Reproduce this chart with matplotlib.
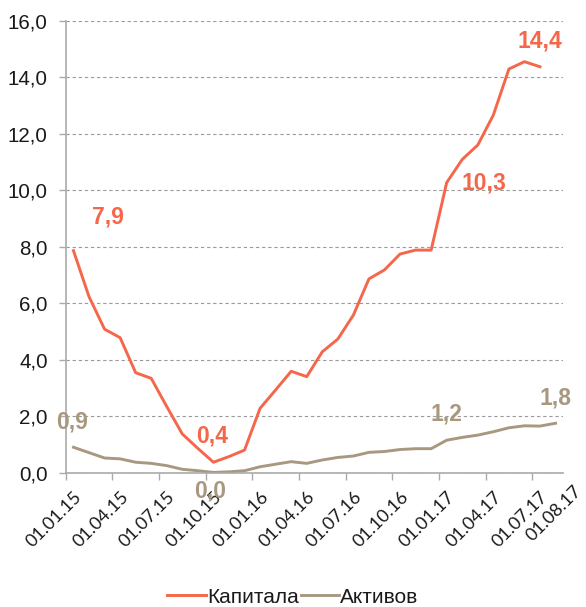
import matplotlib
matplotlib.use("Agg")
import matplotlib.pyplot as plt
import numpy as np

# ---- data ----
dates = ["01.01.15", "01.02.15", "01.03.15", "01.04.15", "01.05.15", "01.06.15",
         "01.07.15", "01.08.15", "01.09.15", "01.10.15", "01.11.15", "01.12.15",
         "01.01.16", "01.02.16", "01.03.16", "01.04.16", "01.05.16", "01.06.16",
         "01.07.16", "01.08.16", "01.09.16", "01.10.16", "01.11.16", "01.12.16",
         "01.01.17", "01.02.17", "01.03.17", "01.04.17", "01.05.17", "01.06.17",
         "01.07.17", "01.08.17"]
kapitala = [7.87, 6.24, 5.09, 4.79, 3.55, 3.35, 2.35, 1.38, 0.87, 0.38, 0.58, 0.81,
            2.29, 2.94, 3.60, 3.41, 4.29, 4.74, 5.59, 6.87, 7.19, 7.75, 7.89, 7.89,
            10.28, 11.10, 11.61, 12.67, 14.30, 14.56, 14.38]
aktivov = [0.91, 0.72, 0.53, 0.50, 0.38, 0.34, 0.26, 0.13, 0.08, 0.02, 0.04, 0.08,
           0.22, 0.31, 0.40, 0.34, 0.46, 0.55, 0.60, 0.73, 0.76, 0.83, 0.86, 0.86,
           1.16, 1.26, 1.34, 1.46, 1.60, 1.67, 1.66, 1.76]
series_names = ["Капитала", "Активов"]
yticks = [0, 2, 4, 6, 8, 10, 12, 14, 16]
label_idx_kap = [0, 9, 24, 30]
label_idx_akt = [0, 9, 24, 31]

RED = "#F4674A"
BROWN = "#A89880"

plt.rcParams["font.family"] = ["Liberation Sans", "DejaVu Sans"]

fig = plt.figure(figsize=(5.86, 6.07), dpi=100)
ax = fig.add_axes([0.1121, 0.2208, 0.8492, 0.7446])

x_k = np.arange(len(kapitala))
x_a = np.arange(len(aktivov))
ax.plot(x_k, kapitala, color=RED, lw=2.1, label=series_names[0], solid_joinstyle="round")
ax.plot(x_a, aktivov, color=BROWN, lw=2.1, label=series_names[1], solid_joinstyle="round")

ax.set_xlim(-0.5, len(dates) - 0.5)
ax.set_ylim(0, 16)

# y axis
ax.set_yticks(yticks)
ax.set_yticklabels([f"{v:.1f}".replace(".", ",") for v in yticks], fontsize=14.8, color="#1a1a1a")
ax.yaxis.grid(True, linestyle=(0, (3, 2.5)), color="#9a9a9a", lw=0.8)
ax.set_axisbelow(True)
ax.tick_params(axis="y", length=5, color="#aaaaaa", width=1, pad=8)

# x axis: tick marks between categories every 3 months, labels at category centers
ax.set_xticks(np.arange(-0.5, len(dates) - 1, 3))
ax.set_xticklabels([])
ax.tick_params(axis="x", which="major", length=5, color="#aaaaaa", width=1)
lab_pos = list(range(0, len(dates) - 1, 3))
ax.set_xticks(lab_pos, minor=True)
ax.set_xticklabels([dates[i] for i in lab_pos], minor=True, rotation=45, ha="right",
                   va="top", rotation_mode="anchor", fontsize=13, color="#1a1a1a",
                   family=["Lato", "DejaVu Sans"])
ax.tick_params(axis="x", which="minor", length=0, pad=11)
# last date label sits at the right end of the axis
ax.annotate(dates[-1], xy=(len(dates) - 1, 0), xycoords="data",
            xytext=(13, -7), textcoords="offset points", rotation=45,
            ha="right", va="top", rotation_mode="anchor", fontsize=13,
            color="#1a1a1a", family=["Lato", "DejaVu Sans"], annotation_clip=False)

for s in ["top", "right"]:
    ax.spines[s].set_visible(False)
for s in ["left", "bottom"]:
    ax.spines[s].set_color("#aaaaaa")
    ax.spines[s].set_linewidth(1.2)

# data labels
def fmt(v):
    return f"{v:.1f}".replace(".", ",")

kap_offsets = {0: (25, 24), 9: (-1, 19), 24: (27, 0), 30: (0, 18.5)}
akt_offsets = {0: (-1, 18), 9: (-2.5, -13.5), 24: (0, 18.7), 31: (0, 18.5)}
for i in label_idx_kap:
    ax.annotate(fmt(kapitala[i]), xy=(i, kapitala[i]), xytext=kap_offsets[i],
                textcoords="offset points", ha="center", va="center",
                fontsize=16.5, fontweight="bold", color=RED, annotation_clip=False)
for i in label_idx_akt:
    ax.annotate(fmt(aktivov[i]), xy=(i, aktivov[i]), xytext=akt_offsets[i],
                textcoords="offset points", ha="center", va="center",
                fontsize=16.5, fontweight="bold", color=BROWN, annotation_clip=False)

fig.legend(loc="center", bbox_to_anchor=(0.5, 0.016), ncol=2, frameon=False,
           fontsize=15, handlelength=1.85, handletextpad=0.05, columnspacing=0.1,
           labelcolor="#1a1a1a")

fig.savefig("out.png", dpi=100)
